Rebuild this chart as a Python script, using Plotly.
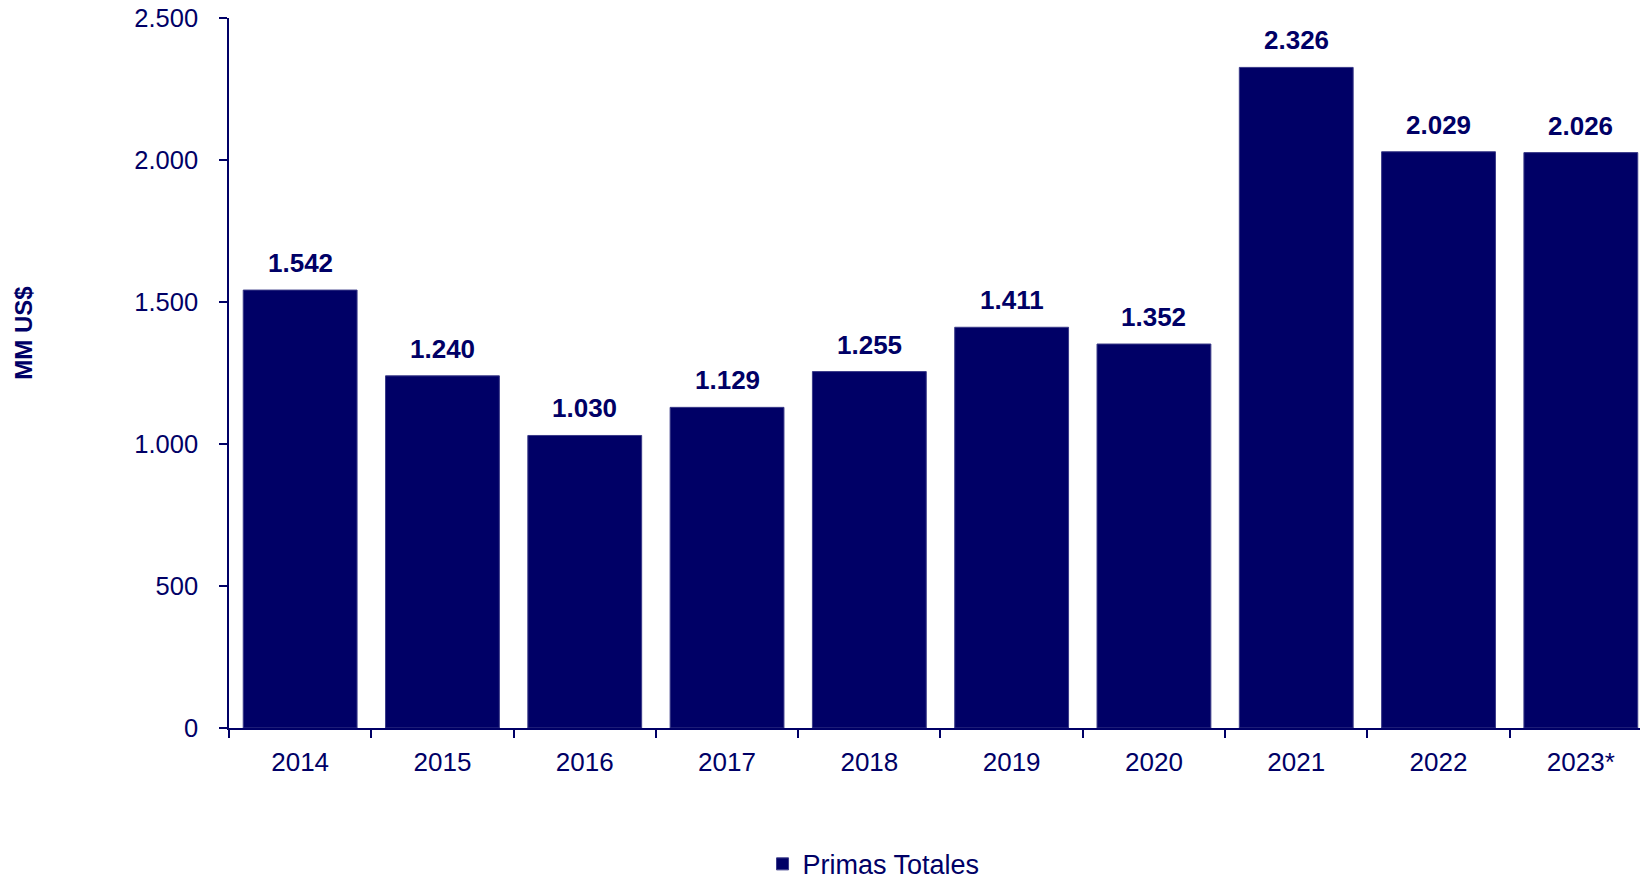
import plotly.graph_objects as go

years = ["2014", "2015", "2016", "2017", "2018", "2019", "2020", "2021", "2022", "2023*"]
primas = [1542, 1240, 1030, 1129, 1255, 1411, 1352, 2326, 2029, 2026]
labels = ["1.542", "1.240", "1.030", "1.129", "1.255", "1.411", "1.352", "2.326", "2.029", "2.026"]
y_ticks = [0, 500, 1000, 1500, 2000, 2500]
y_ticktext = ["0", "500", "1.000", "1.500", "2.000", "2.500"]

NAVY = "#000066"
FONT = "Arial, Liberation Sans, sans-serif"

fig = go.Figure()
fig.add_trace(go.Bar(
    x=years, y=primas, name="Primas Totales",
    marker=dict(color=NAVY, line=dict(color="#3a3a88", width=1)),
))

for i, (y, t) in enumerate(zip(primas, labels)):
    fig.add_annotation(x=i, y=y, text="<b>%s</b>" % t, showarrow=False,
                       xanchor="center", yanchor="middle", yshift=27,
                       font=dict(family=FONT, size=26, color=NAVY))

fig.add_annotation(xref="paper", yref="paper", x=-0.145, y=0.557,
                   xanchor="center", yanchor="middle",
                   text="<b>MM US$</b>", textangle=-90, showarrow=False,
                   font=dict(family=FONT, size=24, color=NAVY))

fig.update_layout(
    width=1640, height=871,
    margin=dict(l=221, r=0, t=10, b=151, autoexpand=False),
    plot_bgcolor="white", paper_bgcolor="white",
    bargap=0.2,
    font=dict(family=FONT, size=26, color=NAVY),
    showlegend=True,
    legend=dict(orientation="h", x=0.376, y=-0.192, xanchor="left", yanchor="middle",
                font=dict(family=FONT, size=27, color=NAVY)),
    xaxis=dict(range=[-0.5, 9.472], showline=True, linecolor=NAVY, linewidth=1.5,
               ticks="outside", tickson="boundaries", ticklen=8, tickcolor=NAVY,
               tickwidth=1.5, showgrid=False, tickfont=dict(size=26, color=NAVY),
               ticklabelstandoff=10),
    yaxis=dict(range=[0, 2500], tickvals=y_ticks, ticktext=y_ticktext,
               showline=True, linecolor=NAVY, linewidth=1.5, ticks="outside",
               ticklen=8, tickcolor=NAVY, tickwidth=1.5, showgrid=False,
               zeroline=False, tickfont=dict(size=25.5, color=NAVY),
               ticklabelstandoff=16, ticklabeloverflow="allow"),
)

fig.write_html("out.html")
